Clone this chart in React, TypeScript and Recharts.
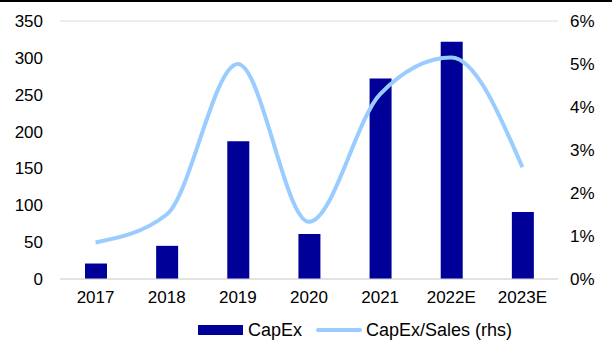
import { ComposedChart, Bar, Line, XAxis, YAxis, CartesianGrid, Legend } from "recharts";

const years = ["2017", "2018", "2019", "2020", "2021", "2022E", "2023E"];
const capex = [21, 45, 187, 61, 272, 322, 91];
const capexToSales = [0.85, 1.5, 5.0, 1.33, 4.3, 5.15, 2.6];

const leftTicks = [0, 50, 100, 150, 200, 250, 300, 350];
const rightTicks = [0, 1, 2, 3, 4, 5, 6];

const data = years.map((year, i) => ({
  year,
  capex: capex[i],
  ratio: capexToSales[i],
}));

const BAR = "#000099";
const LINE = "#99ccff";
const font = "'Liberation Sans', Arial, sans-serif";
const tickStyle = { fontSize: 17, fill: "#000", fontFamily: font };

function ChartLegend() {
  return (
    <div style={{ display: "flex", alignItems: "center", height: 20, fontFamily: font, fontSize: 18, color: "#000" }}>
      <span style={{ width: 45, height: 10, background: BAR, display: "inline-block", marginRight: 5 }} />
      <span style={{ marginRight: 14 }}>CapEx</span>
      <span style={{ width: 46, height: 4, borderRadius: 2, background: LINE, display: "inline-block", marginRight: 4 }} />
      <span>CapEx/Sales (rhs)</span>
    </div>
  );
}

export default function App() {
  return (
    <div style={{ position: "absolute", top: 0, left: 0, width: 612, height: 340, background: "#fff", borderTop: "2px solid #000", boxSizing: "border-box" }}>
      <ComposedChart width={612} height={338} data={data} margin={{ top: 19, right: 0, bottom: 19, left: 0 }}>
        <CartesianGrid vertical={false} stroke="#d9d9d9" />
        <XAxis
          dataKey="year"
          axisLine={{ stroke: "#d9d9d9" }}
          tickLine={false}
          tickSize={0}
          tickMargin={12}
          tick={tickStyle}
          height={22}
          interval={0}
        />
        <YAxis
          yAxisId="left"
          domain={[0, 350]}
          ticks={leftTicks}
          axisLine={false}
          tickLine={false}
          tickSize={0}
          tickMargin={17}
          width={60}
          tick={tickStyle}
        />
        <YAxis
          yAxisId="right"
          orientation="right"
          domain={[0, 6]}
          ticks={rightTicks}
          tickFormatter={(v: number) => `${v}%`}
          axisLine={false}
          tickLine={false}
          tickSize={0}
          tickMargin={12}
          width={54}
          tick={{ ...tickStyle, textAnchor: "start" }}
        />
        <Legend
          content={<ChartLegend />}
          wrapperStyle={{ left: 198, bottom: 0, width: "auto" }}
        />
        <Bar yAxisId="left" dataKey="capex" name="CapEx" fill={BAR} barSize={22} isAnimationActive={false} />
        <Line
          yAxisId="right"
          type="monotone"
          dataKey="ratio"
          name="CapEx/Sales (rhs)"
          stroke={LINE}
          strokeWidth={4}
          dot={false}
          isAnimationActive={false}
        />
      </ComposedChart>
    </div>
  );
}
